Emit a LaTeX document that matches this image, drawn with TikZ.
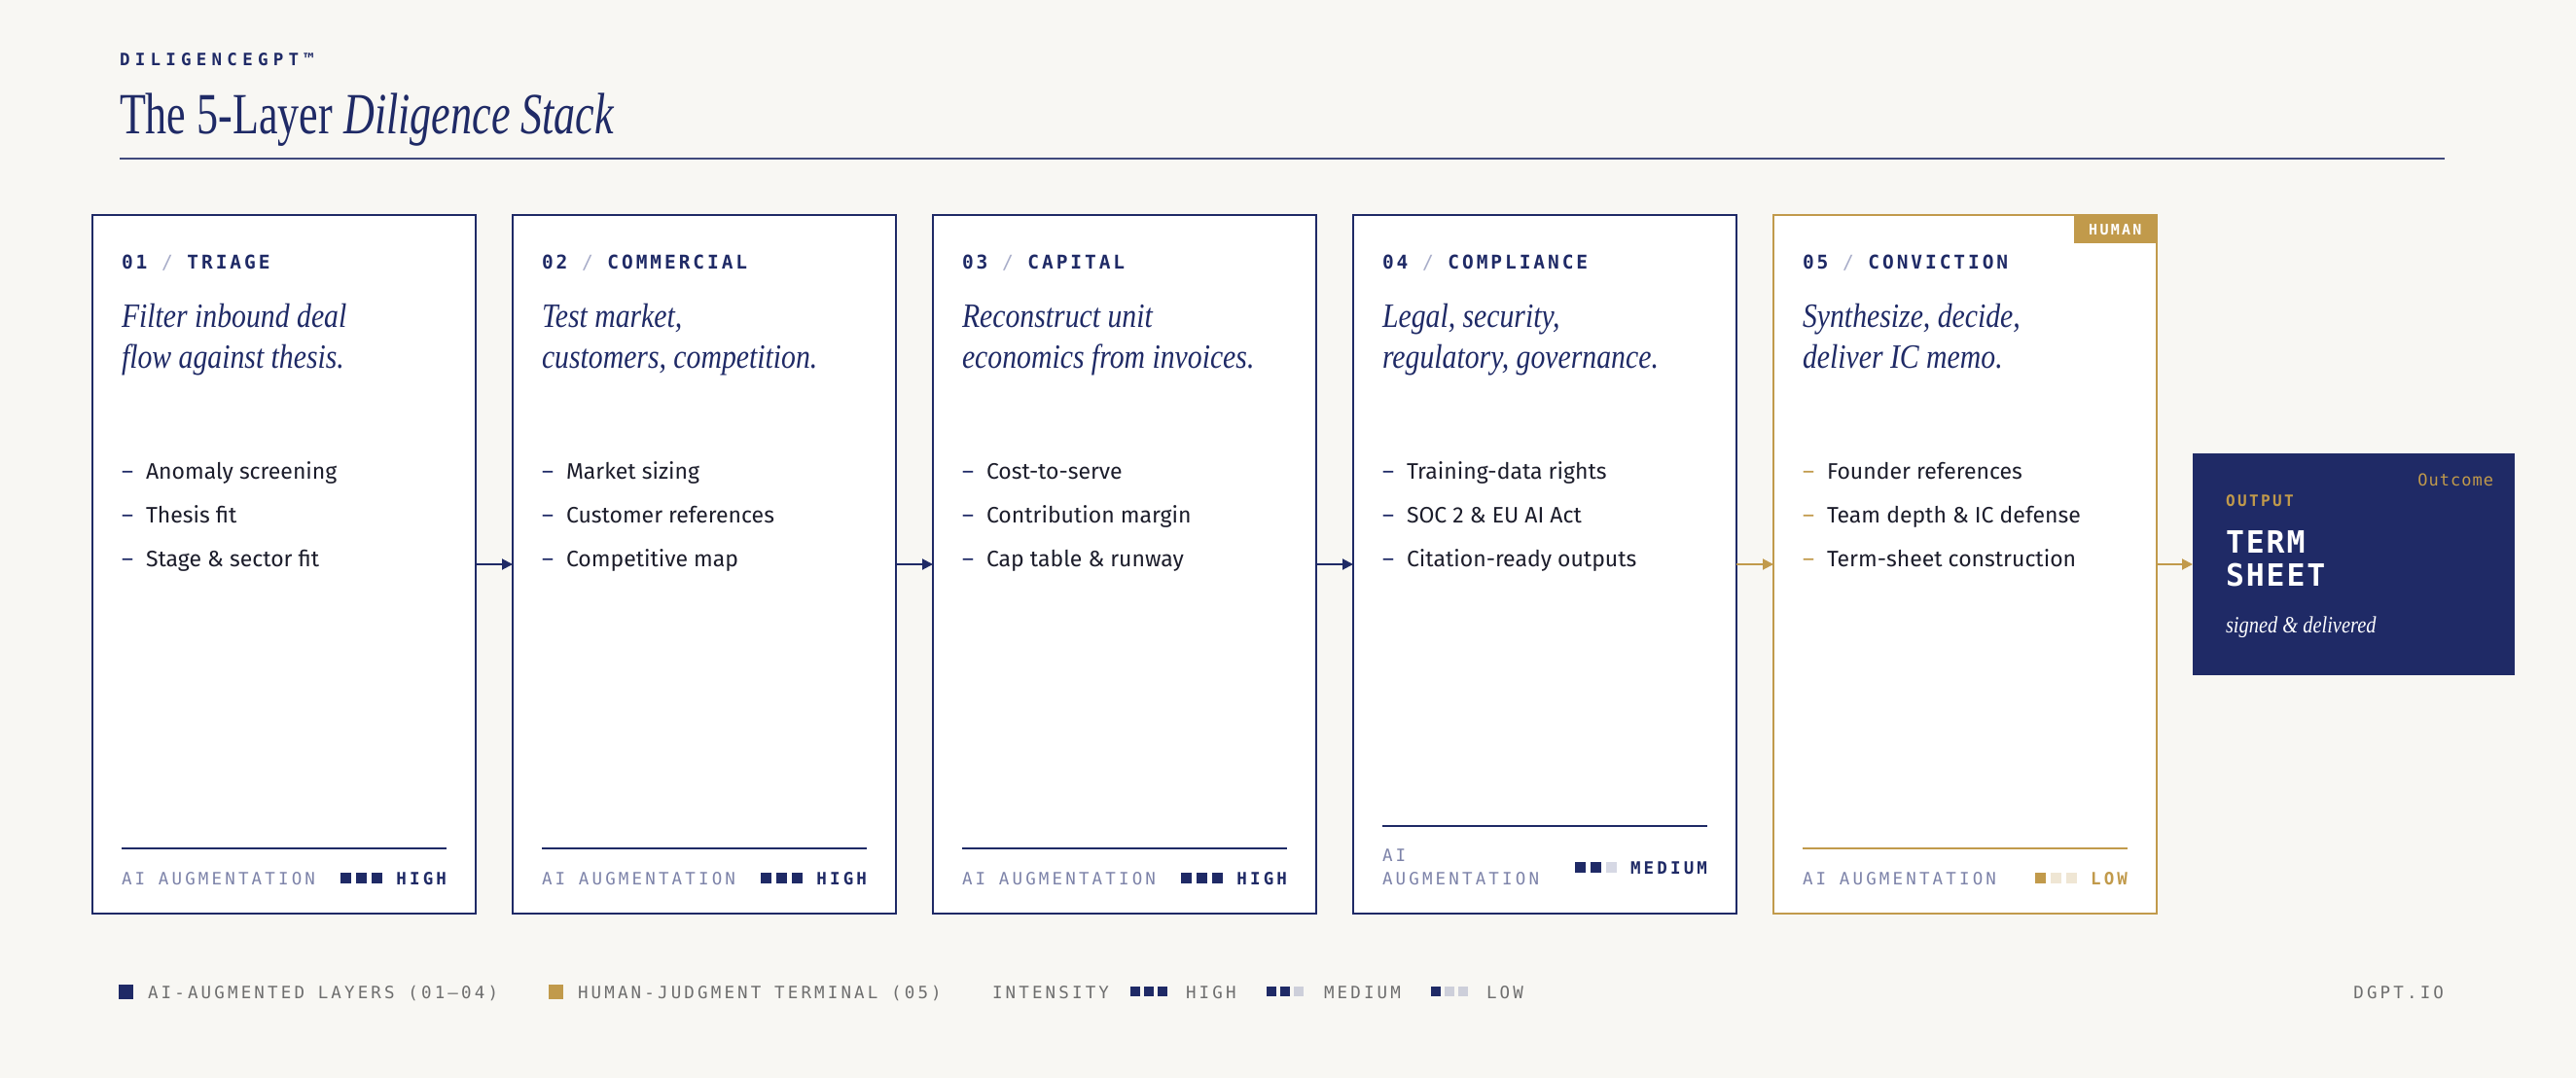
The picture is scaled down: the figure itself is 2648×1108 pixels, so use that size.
\documentclass[tikz,border=0pt]{standalone}
\usepackage{fontspec}
\setmainfont{Fira Sans}
\newfontfamily\labelfont[LetterSpace=18]{DejaVu Sans Mono}
\newfontfamily\headfont[LetterSpace=15]{DejaVu Sans Mono}
\newfontfamily\brandfont[LetterSpace=30]{DejaVu Sans Mono}
\newfontfamily\termfont[LetterSpace=6]{DejaVu Sans Mono}
\newfontfamily\titleserif[FakeStretch=0.735]{Liberation Serif}
\newfontfamily\tagserif[FakeStretch=0.85]{Liberation Serif}
\usepackage{xcolor}
\usepackage{tikz}
\usetikzlibrary{arrows.meta,calc}

\definecolor{paper}{HTML}{F8F7F3}
\definecolor{navy}{HTML}{1F2A66}
\definecolor{gold}{HTML}{C19A4B}
\definecolor{ink}{HTML}{1C1D2B}
\definecolor{slate}{HTML}{7D83A9}
\definecolor{ash}{HTML}{6E6E6E}
\definecolor{navymist}{HTML}{D6D8E4}
\definecolor{goldmist}{HTML}{EFE6D4}
\definecolor{legmist}{HTML}{CDCFDA}
\definecolor{slashgrey}{HTML}{A8ADC9}

\begin{document}
\begin{tikzpicture}[x=1pt, y=-1pt,
    layerbox/.style={draw, fill=white, line width=2pt, minimum width=394pt, minimum height=718pt, anchor=north west, inner sep=0pt, outer sep=0pt},
    txt/.style={anchor=base west, inner sep=0pt, outer sep=0pt},
    heading/.style={txt, text=navy, font=\headfont\bfseries\fontsize{19.5}{22}\selectfont},
    tagline/.style={txt, text=navy, align=left, font=\tagserif\itshape\fontsize{35}{41.6}\selectfont},
    itemtext/.style={txt, text=ink, font=\fontsize{23}{28}\selectfont},
    auglabel/.style={txt, text=slate, align=left, font=\labelfont\fontsize{17.5}{24}\selectfont},
    levellabel/.style={txt, anchor=base east, font=\labelfont\bfseries\fontsize{17.5}{24}\selectfont},
    legendlabel/.style={txt, text=ash, font=\labelfont\fontsize{17.5}{20}\selectfont},
    flow/.style={line width=2pt, -{Triangle[length=11pt, width=11pt]}}
  ]

  % Background
  \fill[paper] (0,0) rectangle (2648,1108);

  % Header
  \node[txt, text=navy, font=\brandfont\bfseries\fontsize{17.5}{20}\selectfont] (brand) at (123,67) {DILIGENCEGPT™};
  \node[txt, text=navy, font=\titleserif\fontsize{60}{66}\selectfont] (title) at (123,137) {The 5-Layer \textit{Diligence Stack}};
  \draw[navy!85, line width=2pt] (123,163) -- (2513,163);

  % Layer cards
  \foreach \i/\x/\col/\name/\lineA/\lineB/\itA/\itB/\itC in {
      1/95/navy/TRIAGE/Filter inbound deal/flow against thesis./Anomaly screening/Thesis fit/Stage \& sector fit,
      2/527/navy/COMMERCIAL/{Test market,}/{customers, competition.}/Market sizing/Customer references/Competitive map,
      3/959/navy/CAPITAL/Reconstruct unit/economics from invoices./Cost-to-serve/Contribution margin/Cap table \& runway,
      4/1391/navy/COMPLIANCE/{Legal, security,}/{regulatory, governance.}/Training-data rights/SOC 2 \& EU AI Act/Citation-ready outputs,
      5/1823/gold/CONVICTION/{Synthesize, decide,}/deliver IC memo./Founder references/Team depth \& IC defense/Term-sheet construction}{
    \node[layerbox, draw=\col] (L\i) at (\x,221) {};
    \node[heading] (L\i-head) at (\x+30,276) {0\i{} {\mdseries\color{slashgrey}/} \name};
    \node[tagline] (L\i-tag) at (\x+30,378) {\lineA\\\lineB};
    \foreach \entry [count=\k] in {\itA,\itB,\itC}{
      \node[txt, text=\col, font=\fontsize{23}{28}\selectfont] (L\i-d\k) at (\x+30,447+45*\k) {–};
      \node[itemtext] (L\i-b\k) at (\x+55,447+45*\k) {\entry};
    }
  }

  % AI augmentation strip
  \foreach \i/\x/\col/\ry/\lab/\lvl/\lvly/\sa/\sb/\sc in {
      1/95/navy/872/{AI AUGMENTATION}/HIGH/909/navy/navy/navy,
      2/527/navy/872/{AI AUGMENTATION}/HIGH/909/navy/navy/navy,
      3/959/navy/872/{AI AUGMENTATION}/HIGH/909/navy/navy/navy,
      4/1391/navy/849/{AI\\AUGMENTATION}/MEDIUM/898/navy/navy/navymist,
      5/1823/gold/872/{AI AUGMENTATION}/LOW/909/gold/goldmist/goldmist}{
    \draw[draw=\col, line width=2pt] (\x+30,\ry) -- (\x+364,\ry);
    \node[auglabel] (L\i-aug) at (\x+30,909) {\lab};
    \node[levellabel, text=\col] (L\i-lvl) at (\x+364,\lvly) {\lvl};
    \foreach \sq [count=\k] in {\sa,\sb,\sc}
      \fill[fill=\sq] ($(L\i-lvl.base west)+(-73+16*\k,-12)$) rectangle +(11,11);
  }

  % Human tag
  \node[fill=gold, text=white, anchor=north east, minimum width=85pt, minimum height=29pt, inner sep=0pt,
        font=\headfont\bfseries\fontsize{15}{18}\selectfont] (human) at (L5.north east) {HUMAN};

  % Output card
  \node[fill=navy, minimum width=331pt, minimum height=228pt, inner sep=0pt, outer sep=0pt, anchor=west] (term) at (2254,580) {};
  \node[txt, anchor=base east, text=gold, font=\termfont\fontsize{17}{20}\selectfont] (term-outcome) at (2563,499) {Outcome};
  \node[txt, text=gold, font=\headfont\bfseries\fontsize{16}{20}\selectfont] (term-kind) at (2288,520) {OUTPUT};
  \node[txt, text=white, align=left, font=\termfont\bfseries\fontsize{31.5}{34}\selectfont] (term-title) at (2288,602) {TERM\\SHEET};
  \node[txt, text=white, font=\tagserif\itshape\fontsize{24}{28}\selectfont] (term-note) at (2288,650) {signed \& delivered};

  % Flow arrows
  \foreach \a/\b/\col in {L1/L2/navy, L2/L3/navy, L3/L4/navy, L4/L5/gold, L5/term/gold}
    \draw[flow, color=\col] (\a.east) -- (\b.west);

  % Legend
  \fill[navy] (122,1012) rectangle +(15,15);
  \node[legendlabel] (leg-ai) at (152,1026) {AI-AUGMENTED LAYERS (01–04)};
  \fill[gold] (564,1012) rectangle +(15,15);
  \node[legendlabel] (leg-human) at (594,1026) {HUMAN-JUDGMENT TERMINAL (05)};
  \node[legendlabel] (leg-int) at (1020,1026) {INTENSITY};
  \foreach \sx/\sq in {1162/navy,1176/navy,1190/navy,1302/navy,1316/navy,1330/legmist,1471/navy,1485/legmist,1499/legmist}
    \fill[fill=\sq] (\sx,1014) rectangle +(10,10);
  \node[legendlabel] (leg-high) at (1219,1026) {HIGH};
  \node[legendlabel] (leg-med) at (1361,1026) {MEDIUM};
  \node[legendlabel] (leg-low) at (1528,1026) {LOW};
  \node[legendlabel, anchor=base east] (site) at (2512,1026) {DGPT.IO};
\end{tikzpicture}
\end{document}
